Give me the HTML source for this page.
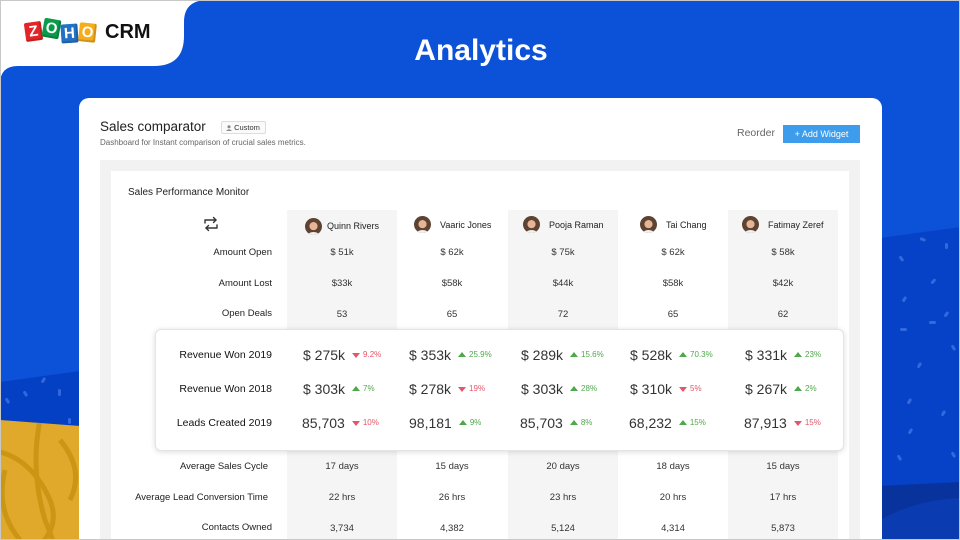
<!DOCTYPE html>
<html><head><meta charset="utf-8">
<style>
*{margin:0;padding:0;box-sizing:border-box}
html,body{width:960px;height:540px;overflow:hidden}
body{position:relative;font-family:"Liberation Sans",sans-serif;background:#0c52d9}
.a{position:absolute;white-space:nowrap}
.lab{position:absolute;right:688px;font-size:9.5px;color:#222;line-height:12px;white-space:nowrap;text-align:right}
.v{position:absolute;width:110px;text-align:center;font-size:9.5px;color:#333;line-height:12px;white-space:nowrap}
.blab{position:absolute;right:688px;font-size:10.5px;color:#111;line-height:14px;white-space:nowrap;text-align:right}
.cell{position:absolute;white-space:nowrap;line-height:16px}
.big{font-size:14px;color:#333;vertical-align:middle}
.pu,.pd{font-size:8px;vertical-align:middle}
.pu{color:#4fa84a}.pd{color:#e5566a}
.tu,.td{display:inline-block;width:0;height:0;border-left:4px solid transparent;border-right:4px solid transparent;vertical-align:middle;margin:0 3px 0 7px}
.tu{border-bottom:5px solid #4fa84a;margin-top:-2px}
.td{border-top:5px solid #e5566a}
.col{position:absolute;top:210px;width:110px;height:330px;background:#f5f5f5}
.av{position:absolute;width:17px;height:17px;border-radius:50%;background:radial-gradient(circle at 50% 48%,#e6b596 0 32%,#5e4232 34% 100%);overflow:hidden}
.av:after{content:"";position:absolute;left:3px;right:3px;bottom:-3px;height:6px;border-radius:50% 50% 0 0;background:#f0f0f0}
.nm{position:absolute;font-size:9px;color:#222;line-height:12px;white-space:nowrap}
.tile{position:absolute;width:17px;height:19px;border-radius:2px;color:#fff;font-weight:bold;font-size:15px;line-height:19px;text-align:center;box-shadow:inset -2px -2px 0 rgba(0,0,0,0.15)}
</style></head><body>

<svg class="a" style="left:0;top:0" width="960" height="540" viewBox="0 0 960 540">
  <rect width="960" height="540" fill="#0c52d9"/>
  <path d="M0,0 H208 Q184,0 184,22 V36 Q184,66 154,66 H18 Q0,66 0,84 Z" fill="#fff"/>
  <polygon points="880,238 960,227 960,540 880,540" fill="#0542c8"/>
  <polygon points="880,486 960,482 960,540 880,540" fill="#08339c"/>
  <path d="M880,520 Q915,500 960,498 L960,540 L880,540 Z" fill="#0a3bb0"/>
  <g fill="#3f73e2" opacity="0.8">
    <rect x="920" y="238" width="6" height="3" rx="1.5" transform="rotate(20 923 239)"/>
    <rect x="945" y="243" width="3" height="6" rx="1.5"/>
    <rect x="900" y="256" width="3" height="6" rx="1.5" transform="rotate(-35 901 259)"/>
    <rect x="932" y="278" width="3" height="6" rx="1.5" transform="rotate(40 933 281)"/>
    <rect x="903" y="296" width="3" height="6" rx="1.5" transform="rotate(30 904 299)"/>
    <rect x="945" y="311" width="3" height="6" rx="1.5" transform="rotate(35 946 314)"/>
    <rect x="929" y="321" width="7" height="3" rx="1.5"/>
    <rect x="900" y="328" width="7" height="3" rx="1.5"/>
    <rect x="918" y="362" width="3" height="6" rx="1.5" transform="rotate(30 919 365)"/>
    <rect x="952" y="345" width="3" height="6" rx="1.5" transform="rotate(-30 953 348)"/>
    <rect x="908" y="398" width="3" height="6" rx="1.5" transform="rotate(30 909 401)"/>
    <rect x="942" y="410" width="3" height="6" rx="1.5" transform="rotate(30 943 413)"/>
    <rect x="909" y="428" width="3" height="6" rx="1.5" transform="rotate(30 910 431)"/>
    <rect x="898" y="455" width="3" height="6" rx="1.5" transform="rotate(-30 899 458)"/>
    <rect x="952" y="452" width="3" height="6" rx="1.5" transform="rotate(-30 953 455)"/>
  </g>
  <polygon points="0,382 80,371 80,426 0,420" fill="#0440c4"/>
  <g fill="#3f73e2" opacity="0.8">
    <rect x="6" y="398" width="3" height="6" rx="1.5" transform="rotate(-30 7 401)"/>
    <rect x="24" y="391" width="3" height="6" rx="1.5" transform="rotate(-30 25 394)"/>
    <rect x="58" y="389" width="3" height="7" rx="1.5"/>
    <rect x="42" y="377" width="3" height="6" rx="1.5" transform="rotate(30 43 380)"/>
    <rect x="68" y="418" width="3" height="6" rx="1.5"/>
  </g>
  <clipPath id="yc"><polygon points="0,420 80,426 80,540 0,540"/></clipPath>
  <g clip-path="url(#yc)">
    <rect x="0" y="410" width="80" height="130" fill="#e0a92b"/>
    <g fill="none" stroke="#cc9614" stroke-width="5">
      <path d="M40,420 Q30,470 45,520 Q55,545 60,560"/>
      <path d="M-10,450 Q30,455 50,500 Q60,525 40,545"/>
      <path d="M5,470 Q-5,510 20,540"/>
      <path d="M60,440 Q85,470 70,500"/>
    </g>
  </g>
  <rect x="0.5" y="0.5" width="959" height="539" fill="none" stroke="#c8c8c8" stroke-width="1"/>
</svg>

<div class="tile" style="left:25px;top:22px;background:#e42527;transform:rotate(-8deg)">Z</div>
<div class="tile" style="left:43px;top:19px;background:#0a9a4a;transform:rotate(10deg)">O</div>
<div class="tile" style="left:61px;top:24px;background:#2371c4;transform:rotate(-4deg)">H</div>
<div class="tile" style="left:79px;top:23px;background:#f5ad1c;transform:rotate(6deg)">O</div>
<div class="a" style="left:105px;top:20px;font-size:20px;font-weight:bold;color:#111;line-height:24px">CRM</div>

<div class="a" style="left:0;width:962px;top:33px;text-align:center;font-size:30px;font-weight:bold;color:#fff;line-height:36px">Analytics</div>

<div class="a" style="left:79px;top:98px;width:803px;height:442px;background:#fff;border-radius:10px 10px 0 0"></div>
<div class="a" style="left:100px;top:119px;font-size:13.5px;color:#222;line-height:16px">Sales comparator</div>
<div class="a" style="left:221px;top:121px;width:45px;height:13px;border:1px solid #ddd;background:#fafafa;border-radius:2px;font-size:7.5px;color:#333;line-height:11px;padding-left:4px">
  <svg width="6" height="6" viewBox="0 0 6 6" style="vertical-align:-0.5px"><circle cx="3" cy="1.8" r="1.5" fill="#888"/><path d="M0,6 Q3,2.5 6,6 Z" fill="#888"/></svg> Custom</div>
<div class="a" style="left:100px;top:138px;font-size:8px;color:#666;line-height:10px">Dashboard for Instant comparison of crucial sales metrics.</div>
<div class="a" style="left:737px;top:127px;font-size:10.5px;color:#666;line-height:13px">Reorder</div>
<div class="a" style="left:783px;top:125px;width:77px;height:18px;background:#3d9cec;color:#fff;font-size:9px;line-height:18px;text-align:center">+ Add Widget</div>

<div class="a" style="left:100px;top:160px;width:760px;height:380px;background:#f2f2f2"></div>
<div class="a" style="left:111px;top:171px;width:738px;height:369px;background:#fff"></div>
<div class="a" style="left:128px;top:187px;font-size:10px;color:#222;line-height:12px">Sales Performance Monitor</div>

<div class="col" style="left:287px"></div>
<div class="col" style="left:508px"></div>
<div class="col" style="left:728px"></div>

<svg class="a" style="left:203px;top:216px" width="16" height="16" viewBox="0 0 16 16">
  <g fill="none" stroke="#333" stroke-width="1.4" stroke-linecap="round" stroke-linejoin="round">
    <path d="M2,7 V4 H13"/><path d="M10.5,1.5 L13,4 L10.5,6.5"/>
    <path d="M14,9 V12 H3"/><path d="M5.5,9.5 L3,12 L5.5,14.5"/>
  </g>
</svg>

<div class="av" style="left:305px;top:218px"></div><div class="nm" style="left:327px;top:220px">Quinn Rivers</div>
<div class="av" style="left:414px;top:216px"></div><div class="nm" style="left:440px;top:219px">Vaaric Jones</div>
<div class="av" style="left:523px;top:216px"></div><div class="nm" style="left:549px;top:219px">Pooja Raman</div>
<div class="av" style="left:640px;top:216px"></div><div class="nm" style="left:666px;top:219px">Tai Chang</div>
<div class="av" style="left:742px;top:216px"></div><div class="nm" style="left:768px;top:219px">Fatimay Zeref</div>

<div class="lab" style="top:247px">Amount Open</div>
<div class="v" style="left:287px;top:247px">$ 51k</div><div class="v" style="left:397px;top:247px">$ 62k</div><div class="v" style="left:508px;top:247px">$ 75k</div><div class="v" style="left:618px;top:247px">$ 62k</div><div class="v" style="left:728px;top:247px">$ 58k</div>
<div class="lab" style="top:278px">Amount Lost</div>
<div class="v" style="left:287px;top:278px">$33k</div><div class="v" style="left:397px;top:278px">$58k</div><div class="v" style="left:508px;top:278px">$44k</div><div class="v" style="left:618px;top:278px">$58k</div><div class="v" style="left:728px;top:278px">$42k</div>
<div class="lab" style="top:308px">Open Deals</div>
<div class="v" style="left:287px;top:309px">53</div><div class="v" style="left:397px;top:309px">65</div><div class="v" style="left:508px;top:309px">72</div><div class="v" style="left:618px;top:309px">65</div><div class="v" style="left:728px;top:309px">62</div>

<div class="a" style="left:155px;top:329px;width:689px;height:122px;background:#fff;border:1px solid #e4e4e4;border-radius:6px;box-shadow:0 1px 6px rgba(0,0,0,0.14)"></div>
<div class="blab" style="top:348px">Revenue Won 2019</div>
<div class="blab" style="top:382px">Revenue Won 2018</div>
<div class="blab" style="top:416px">Leads Created 2019</div>

<div class="cell" style="left:303px;top:347px"><span class="big">$ 275k</span><span class="td"></span><span class="pd">9.2%</span></div>
<div class="cell" style="left:409px;top:347px"><span class="big">$ 353k</span><span class="tu"></span><span class="pu">25.9%</span></div>
<div class="cell" style="left:521px;top:347px"><span class="big">$ 289k</span><span class="tu"></span><span class="pu">15.6%</span></div>
<div class="cell" style="left:630px;top:347px"><span class="big">$ 528k</span><span class="tu"></span><span class="pu">70.3%</span></div>
<div class="cell" style="left:745px;top:347px"><span class="big">$ 331k</span><span class="tu"></span><span class="pu">23%</span></div>

<div class="cell" style="left:303px;top:381px"><span class="big">$ 303k</span><span class="tu"></span><span class="pu">7%</span></div>
<div class="cell" style="left:409px;top:381px"><span class="big">$ 278k</span><span class="td"></span><span class="pd">19%</span></div>
<div class="cell" style="left:521px;top:381px"><span class="big">$ 303k</span><span class="tu"></span><span class="pu">28%</span></div>
<div class="cell" style="left:630px;top:381px"><span class="big">$ 310k</span><span class="td"></span><span class="pd">5%</span></div>
<div class="cell" style="left:745px;top:381px"><span class="big">$ 267k</span><span class="tu"></span><span class="pu">2%</span></div>

<div class="cell" style="left:302px;top:415px"><span class="big">85,703</span><span class="td"></span><span class="pd">10%</span></div>
<div class="cell" style="left:409px;top:415px"><span class="big">98,181</span><span class="tu"></span><span class="pu">9%</span></div>
<div class="cell" style="left:520px;top:415px"><span class="big">85,703</span><span class="tu"></span><span class="pu">8%</span></div>
<div class="cell" style="left:629px;top:415px"><span class="big">68,232</span><span class="tu"></span><span class="pu">15%</span></div>
<div class="cell" style="left:744px;top:415px"><span class="big">87,913</span><span class="td"></span><span class="pd">15%</span></div>

<div class="lab" style="top:461px;right:692px">Average Sales Cycle</div>
<div class="v" style="left:287px;top:461px">17 days</div><div class="v" style="left:397px;top:461px">15 days</div><div class="v" style="left:508px;top:461px">20 days</div><div class="v" style="left:618px;top:461px">18 days</div><div class="v" style="left:728px;top:461px">15 days</div>
<div class="lab" style="top:492px;right:692px">Average Lead Conversion Time</div>
<div class="v" style="left:287px;top:492px">22 hrs</div><div class="v" style="left:397px;top:492px">26 hrs</div><div class="v" style="left:508px;top:492px">23 hrs</div><div class="v" style="left:618px;top:492px">20 hrs</div><div class="v" style="left:728px;top:492px">17 hrs</div>
<div class="lab" style="top:522px;right:688px">Contacts Owned</div>
<div class="v" style="left:287px;top:523px">3,734</div><div class="v" style="left:397px;top:523px">4,382</div><div class="v" style="left:508px;top:523px">5,124</div><div class="v" style="left:618px;top:523px">4,314</div><div class="v" style="left:728px;top:523px">5,873</div>

<div class="a" style="left:0;top:539px;width:960px;height:1px;background:#c8c8c8"></div>
<div class="a" style="left:959px;top:0;width:1px;height:540px;background:#c8c8c8"></div>
</body></html>
